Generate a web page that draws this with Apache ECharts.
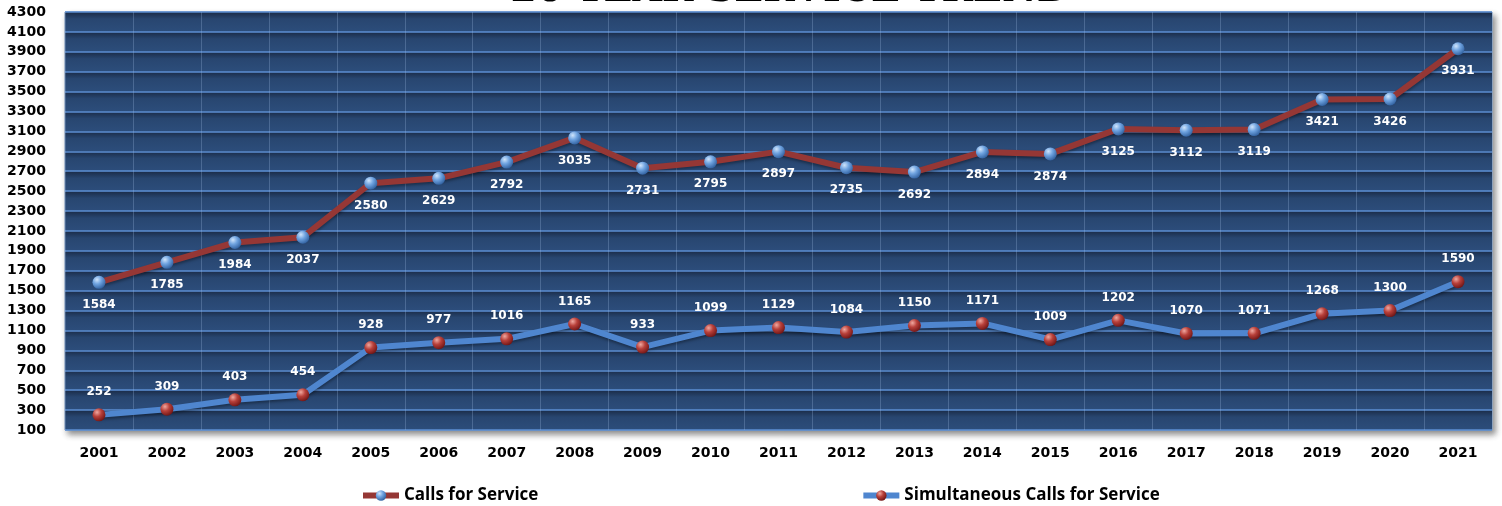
<!DOCTYPE html>
<html>
<head>
<meta charset="utf-8">
<title>20 Year Service Trend</title>
<script src="https://cdn.jsdelivr.net/npm/echarts@6/dist/echarts.min.js"></script>
<style>
  html, body { margin: 0; padding: 0; background: #fff; }
  #main { width: 1502px; height: 506px; }
</style>
</head>
<body>
<div id="main"></div>
<script>
// years on the x axis
const years = ['2001', '2002', '2003', '2004', '2005', '2006', '2007', '2008', '2009', '2010',
  '2011', '2012', '2013', '2014', '2015', '2016', '2017', '2018', '2019', '2020', '2021']
// calls for service (red line, blue dots)
const callsForService = [1584, 1785, 1984, 2037, 2580, 2629, 2792, 3035, 2731, 2795,
  2897, 2735, 2692, 2894, 2874, 3125, 3112, 3119, 3421, 3426, 3931]
// simultaneous calls (blue line, red dots)
const simultaneousCalls = [252, 309, 403, 454, 928, 977, 1016, 1165, 933, 1099,
  1129, 1084, 1150, 1171, 1009, 1202, 1070, 1071, 1268, 1300, 1590]
const seriesNames = ['Calls for Service', 'Simultaneous Calls for Service']
const titleText = '20 YEAR SERVICE TREND'

const chart = echarts.init(document.getElementById('main'))

// sphere-like gradient for the markers
const sphere = (light, mid, dark) => new echarts.graphic.RadialGradient(0.35, 0.3, 0.75, [
  { offset: 0, color: light },
  { offset: 0.45, color: mid },
  { offset: 1, color: dark }
])

// each band between grid lines: dark right under the line, lighter lower down
const band = new echarts.graphic.LinearGradient(0, 0, 0, 1, [
  { offset: 0, color: '#1a2b47' },
  { offset: 0.35, color: '#284670' },
  { offset: 1, color: '#2c4d7b' }
])

const labelStyle = {
  show: true,
  color: '#fff',
  fontFamily: 'DejaVu Sans',
  fontWeight: 'bold',
  fontSize: 12
}

const option = {
  animation: false,
  backgroundColor: '#fff',
  graphic: [
    {
      type: 'text',
      x: 790,
      y: 10,
      z: 10,
      style: {
        text: titleText,
        font: 'bold 38px "DejaVu Serif"',
        fill: '#000',
        align: 'center',
        verticalAlign: 'bottom'
      }
    }
  ],
  legend: {
    top: 482,
    left: 355,
    itemGap: 322,
    itemWidth: 36,
    itemHeight: 13,
    lineStyle: { width: 6 },
    textStyle: {
      color: '#000',
      fontFamily: 'Open Sans',
      fontWeight: 'bold',
      fontSize: 17
    },
    data: seriesNames
  },
  grid: {
    left: 65,
    right: 10,
    top: 12,
    bottom: 76,
    show: true,
    backgroundColor: '#2b4a77',
    borderColor: '#6f8fb8',
    borderWidth: 1,
    shadowColor: 'rgba(0,0,0,0.45)',
    shadowBlur: 6,
    shadowOffsetX: 3,
    shadowOffsetY: 4
  },
  xAxis: {
    type: 'category',
    data: years,
    boundaryGap: true,
    axisLine: { show: false },
    axisTick: { show: false },
    axisLabel: {
      color: '#000',
      fontFamily: 'DejaVu Sans',
      fontWeight: 'bold',
      fontSize: 14,
      margin: 16
    },
    splitLine: {
      show: true,
      interval: 0,
      lineStyle: { color: 'rgba(160,190,230,0.28)', width: 1 }
    }
  },
  yAxis: {
    type: 'value',
    min: 100,
    max: 4300,
    interval: 200,
    axisLine: { show: false },
    axisTick: { show: false },
    axisLabel: {
      color: '#000',
      fontFamily: 'DejaVu Sans',
      fontWeight: 'bold',
      fontSize: 14,
      margin: 19,
      formatter: (v) => String(v)
    },
    splitLine: {
      lineStyle: { color: '#5d8fd3', width: 1.5 }
    },
    splitArea: {
      show: true,
      areaStyle: { color: [band] }
    }
  },
  series: [
    {
      name: seriesNames[0],
      type: 'line',
      data: callsForService,
      symbol: 'circle',
      symbolSize: 13,
      lineStyle: {
        color: '#953735',
        width: 6,
        shadowColor: 'rgba(0,0,0,0.35)',
        shadowBlur: 3,
        shadowOffsetY: 2
      },
      itemStyle: {
        color: sphere('#cfe4fb', '#6fa3e0', '#2f5f9e'),
        borderWidth: 0
      },
      label: Object.assign({ position: 'bottom', distance: 10 }, labelStyle)
    },
    {
      name: seriesNames[1],
      type: 'line',
      data: simultaneousCalls,
      symbol: 'circle',
      symbolSize: 13,
      lineStyle: {
        color: '#4f86cf',
        width: 6,
        shadowColor: 'rgba(0,0,0,0.35)',
        shadowBlur: 3,
        shadowOffsetY: 2
      },
      itemStyle: {
        color: sphere('#f0a8a0', '#b8403a', '#6e1414'),
        borderWidth: 0
      },
      label: Object.assign({ position: 'top', distance: 10 }, labelStyle)
    }
  ]
}

chart.setOption(option)
</script>
</body>
</html>
